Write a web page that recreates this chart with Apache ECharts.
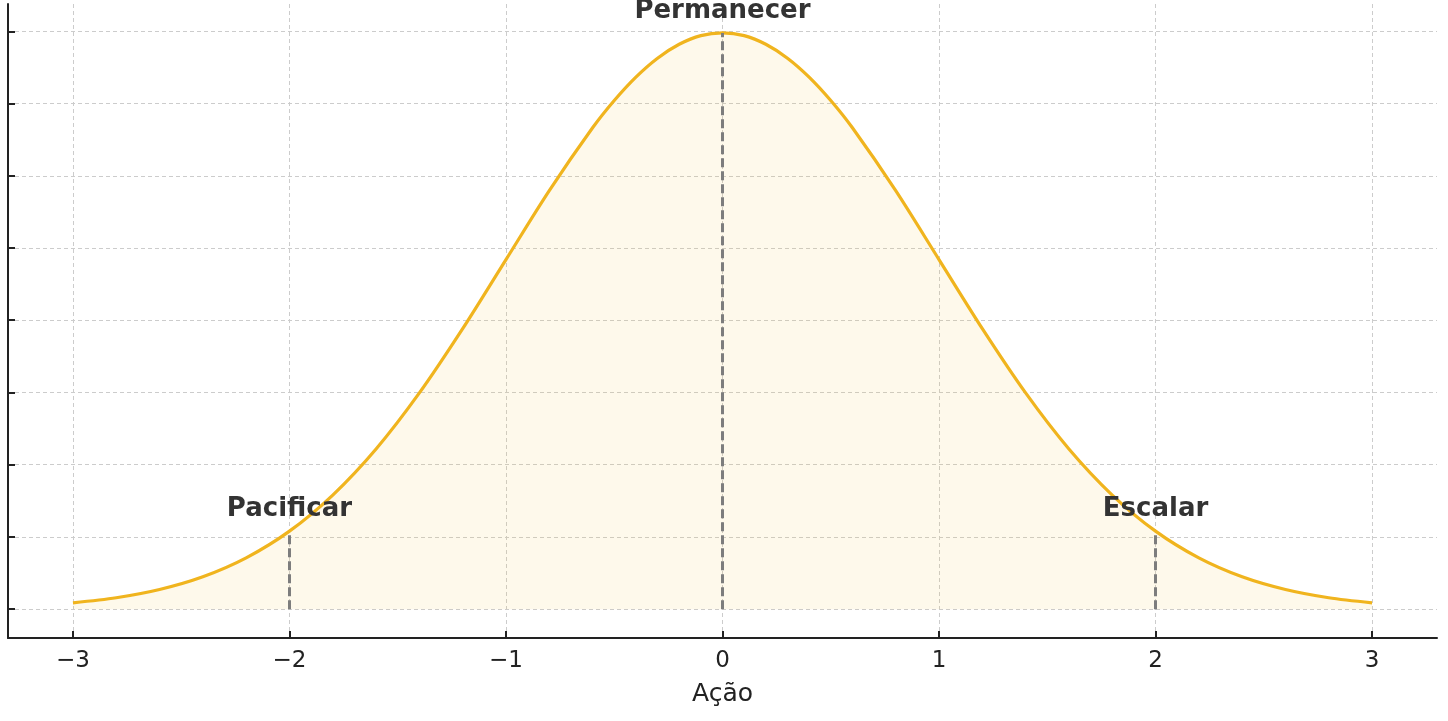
<!DOCTYPE html>
<html>
<head>
<meta charset="utf-8">
<script src="https://cdn.jsdelivr.net/npm/echarts@6/dist/echarts.min.js"></script>
<style>
html,body{margin:0;padding:0;background:#fff;}
#c{width:1448px;height:721px;}
</style>
</head>
<body>
<div id="c"></div>
<script>
// Data (standard-normal-shaped curve)
var xValues = [-3.0,-2.8,-2.6,-2.4,-2.2,-2.0,-1.8,-1.6,-1.4,-1.2,-1.0,-0.8,-0.6,-0.5,-0.4,-0.3,-0.2,-0.1,0.0,
               0.1,0.2,0.3,0.4,0.5,0.6,0.8,1.0,1.2,1.4,1.6,1.8,2.0,2.2,2.4,2.6,2.8,3.0];
var yValues = [0.0044,0.0079,0.0136,0.0224,0.0355,0.0540,0.0790,0.1109,0.1497,0.1942,0.2420,0.2897,0.3332,0.3521,0.3683,0.3814,0.3910,0.3970,0.3989,
               0.3970,0.3910,0.3814,0.3683,0.3521,0.3332,0.2897,0.2420,0.1942,0.1497,0.1109,0.0790,0.0540,0.0355,0.0224,0.0136,0.0079,0.0044];
var markerX = [-2, 0, 2];
var markerY = [0.0540, 0.3989, 0.0540];
var markerNames = ['Pacificar', 'Permanecer', 'Escalar'];
var xTicks = [-3, -2, -1, 0, 1, 2, 3];
var yTicks = [0, 0.05, 0.1, 0.15, 0.2, 0.25, 0.3, 0.35, 0.4];
var xAxisName = 'Ação';

var curve = xValues.map(function (x, i) { return [x, yValues[i]]; });
var lineColor = '#F0B41E';
var font = 'DejaVu Sans';

var markLines = markerX.map(function (x, i) {
  return [{ coord: [x, 0] }, { coord: [x, markerY[i]] }];
});
var labelPts = markerX.map(function (x, i) {
  return { value: [x, markerY[i]], name: markerNames[i] };
});

var chart = echarts.init(document.getElementById('c'), null, { renderer: 'canvas' });
chart.setOption({
  animation: false,
  backgroundColor: '#fff',
  grid: { left: 8, right: 11, top: 4, bottom: 83, containLabel: false },
  xAxis: {
    type: 'value', min: -3.3, max: 3.3,
    name: xAxisName, nameLocation: 'middle', nameGap: 44,
    nameTextStyle: { fontFamily: font, fontSize: 25, color: '#222' },
    axisLine: { show: true, onZero: false, lineStyle: { color: '#222', width: 2 } },
    axisTick: { show: true, inside: true, length: 7, customValues: xTicks, lineStyle: { color: '#222', width: 2 } },
    axisLabel: {
      customValues: xTicks, fontFamily: font, fontSize: 23, color: '#222', margin: 12,
      formatter: function (v) { return v < 0 ? '\u2212' + Math.abs(v) : String(v); }
    },
    splitLine: { show: true, customValues: xTicks, lineStyle: { color: '#cccccc', type: [4, 3], width: 1 } }
  },
  yAxis: {
    type: 'value', min: -0.01995, max: 0.41889,
    axisLine: { show: true, onZero: false, lineStyle: { color: '#222', width: 2 } },
    axisTick: { show: true, inside: true, length: 7, customValues: yTicks, lineStyle: { color: '#222', width: 2 } },
    axisLabel: { show: false, customValues: yTicks },
    splitLine: { show: true, customValues: yTicks, lineStyle: { color: '#cccccc', type: [4, 3], width: 1 } }
  },
  series: [
    {
      type: 'line', data: curve, smooth: 0.3, showSymbol: false, symbol: 'none',
      lineStyle: { color: lineColor, width: 3.2 },
      areaStyle: { color: 'rgba(248,200,80,0.16)', origin: 0 },
      z: 3,
      markLine: {
        silent: true, symbol: ['none', 'none'], label: { show: false },
        lineStyle: { color: '#7d7d7d', width: 3, type: [9, 4] },
        data: markLines, z: 4
      }
    },
    {
      type: 'scatter', data: labelPts, symbolSize: 0, z: 5,
      itemStyle: { opacity: 1 },
      label: {
        show: true, position: 'top', distance: 9,
        formatter: function (p) { return p.name; },
        fontFamily: font, fontSize: 26, fontWeight: 'bold', color: '#333', opacity: 1
      }
    }
  ]
});
</script>
</body>
</html>
